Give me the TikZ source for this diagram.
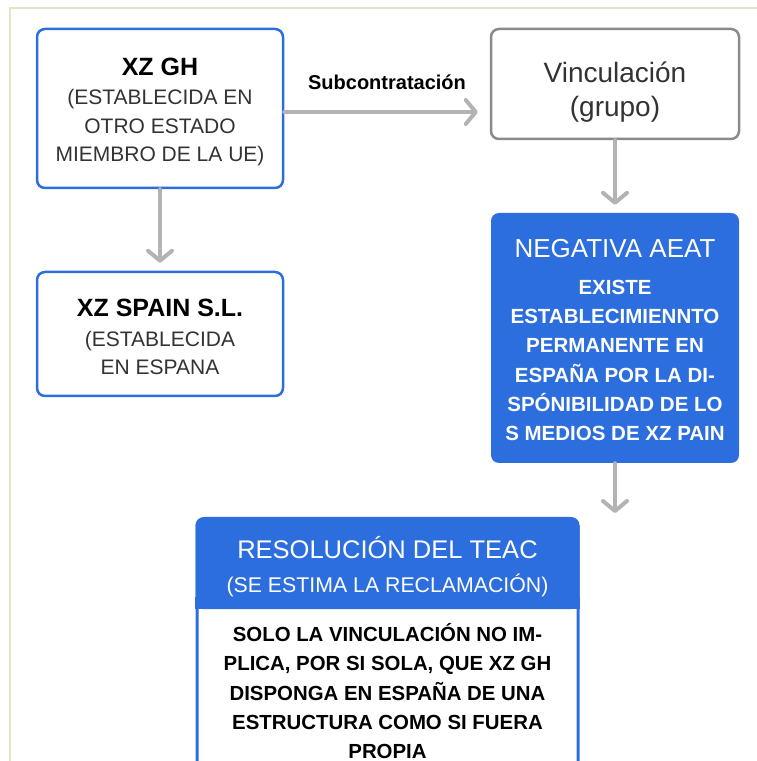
\documentclass[tikz,border=0pt]{standalone}
\usepackage{fontspec}
\setmainfont{Liberation Sans}
\usetikzlibrary{arrows.meta,positioning,calc}
\definecolor{boxblue}{HTML}{2C6EDD}
\definecolor{arrgrey}{HTML}{B3B3B3}
\definecolor{bordgrey}{HTML}{8A8A8A}
\definecolor{txtgrey}{HTML}{333333}
\definecolor{framegreen}{HTML}{DDE7C9}
\newcommand{\ttlsize}{\fontsize{25}{31}\selectfont}
\newcommand{\txtsize}{\fontsize{21}{28.5}\selectfont}

\begin{document}
\begin{tikzpicture}[x=1pt,y=1pt,
  st/.style={draw=boxblue,line width=2.5pt,rounded corners=8pt,align=center,fill=white,
    minimum width=246pt,inner sep=0pt,text=txtgrey,font=\txtsize},
  gr/.style={draw=bordgrey,line width=2.5pt,rounded corners=8pt,align=center,
    minimum width=248pt,minimum height=110pt,inner sep=0pt,text=txtgrey},
  bl/.style={fill=boxblue,rounded corners=8pt,align=center,text=white,inner sep=0pt},
  lb/.style={font=\fontsize{20}{22}\selectfont\bfseries,text=black},
  ar/.style={-{Straight Barb[length=10pt,width=24pt,round]},line width=4pt,draw=arrgrey,line cap=round}]
\useasboundingbox (0,0) rectangle (757,761);
% frame
\draw[framegreen,line width=2pt] (10,-40) |- (800,753);
% left column
\node[st,minimum height=159pt] (gh) at (160,652.5)
  {{\ttlsize\bfseries\color{black}\rule{0pt}{24pt}XZ GH}\\[1pt] (ESTABLECIDA EN\\ OTRO ESTADO\\ MIEMBRO DE LA UE)};
\node[st,minimum height=124pt] (spain) at (160,427)
  {{\ttlsize\bfseries\color{black}\rule{0pt}{24pt}XZ SPAIN S.L.}\\[1pt] (ESTABLECIDA\\ EN ESPANA};
% right column
\node[gr,font=\fontsize{28}{34}\selectfont] (vinc) at (615,677)
  {\rule{0pt}{36pt}Vinculación\\ (grupo)};
\node[bl,minimum width=248pt,minimum height=250pt,font=\fontsize{20.5}{29.2}\selectfont\bfseries] (aeat) at (615,423)
  {{\fontsize{26}{31}\selectfont\mdseries\rule{0pt}{22pt}NEGATIVA AEAT}\\[8pt]
   EXISTE\\ ESTABLECIMIENNTO\\ PERMANENTE EN\\
   ESPAÑA POR LA DI-\\ SPÓNIBILIDAD DE LO\\ S MEDIOS DE XZ PAIN};
\coordinate (aeatend) at (615,248);
% resolution
\node[draw=boxblue,line width=3pt,rounded corners=8pt,minimum width=381pt,minimum height=300pt,
  anchor=north] (teac) at (387.5,244) {};
\node[bl,minimum width=384pt,minimum height=92pt,anchor=north,font=\fontsize{21.3}{34}\selectfont] (teachead) at (teac.north)
  {{\fontsize{25.5}{31}\selectfont\rule{0pt}{30pt}RESOLUCIÓN DEL TEAC}\\ (SE ESTIMA LA RECLAMACIÓN)};
\fill[boxblue] ($(teachead.south west)+(0,12)$) rectangle (teachead.south east);
\node[below=14pt of teachead,align=center,font=\fontsize{20.4}{29.2}\selectfont\bfseries,inner sep=0pt] (teacbody)
  {SOLO LA VINCULACIÓN NO IM-\\ PLICA, POR SI SOLA, QUE XZ GH\\ DISPONGA EN ESPAÑA DE UNA\\
   ESTRUCTURA COMO SI FUERA\\ PROPIA};
% connectors
\draw[ar,shorten >=8pt] (gh)--(spain);
\draw[ar,shorten >=12pt] (gh.east|-0,649)--node[lb,above=17pt]{Subcontratación}(vinc.west|-0,649);
\draw[ar,shorten >=8pt] (vinc)--(aeat);
\draw[ar] (aeat)--(aeatend);
\end{tikzpicture}
\end{document}
